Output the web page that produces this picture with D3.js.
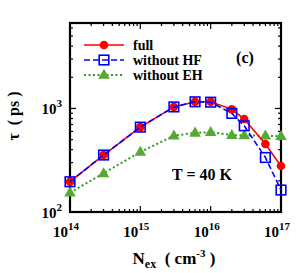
<!DOCTYPE html>
<html>
<head>
<meta charset="utf-8">
<script src="https://cdn.jsdelivr.net/npm/d3@7"></script>
<style>
body { margin: 0; background: #fff; }
text { font-family: "Liberation Serif", "Times New Roman", serif; font-weight: bold; }
</style>
</head>
<body>
<script>
// data
var density = [1e14, 3e14, 1e15, 3e15, 6e15, 1e16, 2e16, 3e16, 6e16, 1e17];
var tauFull = [196, 355, 660, 1035, 1160, 1160, 980, 790, 453, 278];
var tauNoHF = [196, 355, 660, 1035, 1160, 1150, 896, 680, 336, 163];
var tauNoEH = [154, 236, 380, 545, 582, 590, 553, 550, 545, 540];
var xTicks = [14, 15, 16, 17];
var yTicks = [2, 3];

var W = 297, H = 273;
var m = {left: 70, right: 16, top: 23, bottom: 61};

var svg = d3.select("body").append("svg")
  .attr("width", W)
  .attr("height", H);

var x = d3.scaleLog().domain([1e14, 1e17]).range([m.left, W - m.right]);
var y = d3.scaleLog().domain([100, 6690]).range([H - m.bottom, m.top]);

var x0 = m.left, x1 = W - m.right, y0 = H - m.bottom, y1 = m.top;

// minor + major ticks, inward on all four sides
var axes = svg.append("g").attr("stroke", "#000");
for (var e = 14; e < 17; e++) {
  for (var k = 1; k < 10; k++) {
    var v = k * Math.pow(10, e), len = k == 1 ? 6 : 3;
    axes.append("line").attr("x1", x(v)).attr("x2", x(v)).attr("y1", y0).attr("y2", y0 - len).attr("stroke-width", 1.2);
    axes.append("line").attr("x1", x(v)).attr("x2", x(v)).attr("y1", y1).attr("y2", y1 + len).attr("stroke-width", 1.2);
  }
}
for (var e = 2; e < 4; e++) {
  for (var k = 1; k < 10; k++) {
    var v = k * Math.pow(10, e);
    if (v > 6690) break;
    var len = k == 1 ? 6 : 3;
    axes.append("line").attr("y1", y(v)).attr("y2", y(v)).attr("x1", x0).attr("x2", x0 + len).attr("stroke-width", 1.2);
    axes.append("line").attr("y1", y(v)).attr("y2", y(v)).attr("x1", x1).attr("x2", x1 - len).attr("stroke-width", 1.2);
  }
}
svg.append("rect").attr("x", x0).attr("y", y1).attr("width", x1 - x0).attr("height", y0 - y1)
  .attr("fill", "none").attr("stroke", "#000").attr("stroke-width", 2.2);

// tick labels
xTicks.forEach(function(p) {
  var t = svg.append("text").attr("x", x(Math.pow(10, p)) - 4).attr("y", y0 + 25)
    .attr("text-anchor", "middle").attr("font-size", 15).text("10");
  t.append("tspan").attr("dy", -7).attr("font-size", 11).text(p);
});
yTicks.forEach(function(p) {
  var t = svg.append("text").attr("x", x0 - 8).attr("y", y(Math.pow(10, p)) + 6)
    .attr("text-anchor", "end").attr("font-size", 15).text("10");
  t.append("tspan").attr("dy", -7).attr("font-size", 11).text(p);
});

// axis titles
var xt = svg.append("text").attr("x", 174).attr("y", 264).attr("text-anchor", "middle").attr("font-size", 17);
xt.append("tspan").text("N");
xt.append("tspan").attr("dy", 4).attr("font-size", 12).text("ex");
xt.append("tspan").attr("dy", -4).text("\u00a0\u00a0(\u00a0cm");
xt.append("tspan").attr("dy", -7).attr("font-size", 11).text("-3");
xt.append("tspan").attr("dy", 7).text("\u00a0)");

svg.append("text").attr("transform", "translate(19,116) rotate(-90)")
  .attr("text-anchor", "middle").attr("font-size", 16).text("\u03c4\u00a0\u00a0(\u00a0ps\u00a0)");

// series
var line = d3.line().x(function(d) { return x(d[0]); }).y(function(d) { return y(d[1]); });
var series = [
  {name: "full", vals: tauFull, color: "#ff0000", dash: null, mark: "circle"},
  {name: "without HF", vals: tauNoHF, color: "#0000ff", dash: "6,3", mark: "square"},
  {name: "without EH", vals: tauNoEH, color: "#339922", dash: "2,2.5", mark: "triangle"}
];

function marker(g, s, cx, cy) {
  if (s.mark == "circle") {
    g.append("circle").attr("cx", cx).attr("cy", cy).attr("r", 4.3).attr("fill", s.color);
  } else if (s.mark == "square") {
    g.append("rect").attr("x", cx - 4.8).attr("y", cy - 4.8).attr("width", 9.6).attr("height", 9.6)
      .attr("fill", "none").attr("stroke", s.color).attr("stroke-width", 1.6);
  } else {
    g.append("path").attr("d", d3.symbol().type(d3.symbolTriangle).size(58)())
      .attr("transform", "translate(" + cx + "," + (cy + 0.5) + ")").attr("fill", "#55aa33");
  }
}

// draw green first, then red, then blue squares on top
[series[2], series[0], series[1]].forEach(function(s) {
  var pts = density.map(function(d, i) { return [d, s.vals[i]]; });
  var g = svg.append("g");
  g.append("path").datum(pts).attr("d", line).attr("fill", "none")
    .attr("stroke", s.color).attr("stroke-width", s.mark == "triangle" ? 2 : 1.6)
    .attr("stroke-dasharray", s.dash);
  pts.forEach(function(p) { marker(g, s, x(p[0]), y(p[1])); });
});

// legend
series.forEach(function(s, i) {
  var ly = 45 + i * 15;
  svg.append("line").attr("x1", 84).attr("x2", 124).attr("y1", ly).attr("y2", ly)
    .attr("stroke", s.color).attr("stroke-width", s.mark == "triangle" ? 2 : 1.6).attr("stroke-dasharray", s.dash);
  marker(svg, s, 104, ly);
  svg.append("text").attr("x", 133).attr("y", ly + 4.5).attr("font-size", 14).text(s.name);
});

svg.append("text").attr("x", 245).attr("y", 63).attr("text-anchor", "middle").attr("font-size", 16).text("(c)");
svg.append("text").attr("x", 202).attr("y", 180).attr("text-anchor", "middle").attr("font-size", 16).text("T = 40 K");
</script>
</body>
</html>
